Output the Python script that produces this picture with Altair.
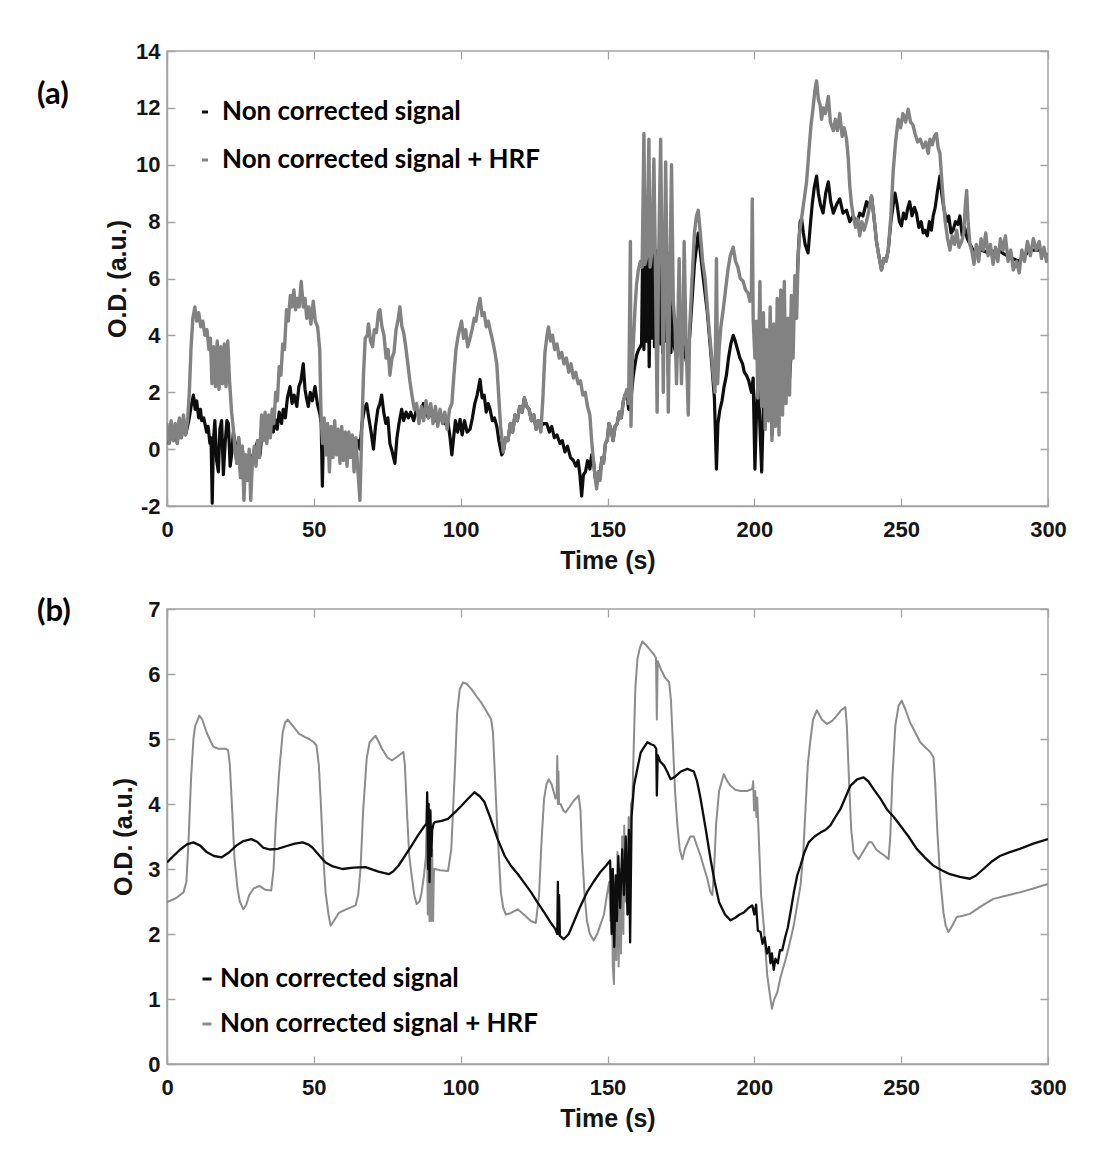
import altair as alt
import pandas as pd

# ---------------- data ----------------
SERIES = ["Non corrected signal", "Non corrected signal + HRF"]

# panel (a): (time s, O.D.)
top_black = [
(0,0.7),(0.7,0.2),(1.4,0.9),(2.1,0.3),(2.8,0.8),(3.5,0.2),(4.2,1.0),(4.9,0.4),(5.6,1.1),(6.3,0.5),(7.0,0.8),(7.6,1.1),(8.2,1.5),(9.0,1.9),(9.6,1.4),(10.1,1.7),(10.8,1.1),(11.4,1.4),(11.8,1.0),(12.5,1.1),(13.5,0.6),(14.0,0.8),(14.6,0.2),(15.0,0.4),(15.4,-1.9),(15.8,0.3),(16.3,1.0),(16.9,-0.4),(17.5,-0.8),(18.0,0.7),(18.6,1.0),(19.2,-0.9),(19.8,0.2),(20.4,1.0),(20.9,0.9),(21.5,-0.6),(22.0,-0.2),(22.6,0.6),(23.2,0.2),(23.8,-0.5),(24.4,0.4),(25.0,-0.8),(25.6,0.1),(26.5,-0.9),(27.4,-0.6),(28.3,-0.2),(29.1,-0.4),(30.0,0.0),(30.9,0.3),(31.7,-0.2),(32.5,0.8),(33.4,1.0),(34.3,0.4),(35.2,0.9),(36.2,0.6),(36.8,1.05),(37.5,0.7),(38.2,1.3),(39.0,0.9),(39.6,1.4),(40.3,1.1),(41.0,1.8),(41.9,2.2),(42.6,1.6),(43.3,1.9),(44.2,1.5),(44.9,2.2),(45.6,2.4),(46.4,3.0),(47.0,2.1),(47.5,1.8),(48.1,1.5),(48.8,2.0),(49.5,1.7),(50.4,2.2),(51.2,1.6),(52.1,1.2),(52.5,0.9),(52.9,-1.3),(53.3,0.6),(54.0,0.2),(55.0,0.5),(56.0,0.0),(57.0,0.6),(58.0,-0.1),(59.0,0.4),(60.0,0.0),(61.0,0.5),(62.0,-0.1),(63.0,0.4),(64.0,-0.2),(65.0,0.3),(65.7,0.0),(66.4,0.9),(67.2,1.4),(68.0,1.6),(68.7,1.1),(69.5,0.6),(70.3,0.0),(71.0,0.8),(71.8,1.4),(72.5,1.6),(73.1,1.9),(73.8,1.3),(74.5,0.9),(75.2,1.1),(75.9,0.2),(76.7,-0.1),(77.6,-0.5),(78.3,0.4),(79.0,0.9),(79.9,1.4),(80.6,1.0),(81.4,1.3),(82.2,1.1),(83.0,1.3),(84.0,1.0),(85.0,1.4),(86.0,1.2),(87.3,1.6),(88.2,1.3),(89.0,1.1),(90.0,1.3),(91.5,1.0),(93.0,1.2),(94.5,0.9),(95.6,1.0),(96.4,0.4),(97.0,-0.2),(97.5,0.3),(98.2,1.0),(99.0,0.6),(99.8,1.05),(100.5,0.5),(101.3,1.0),(102.2,0.6),(103.2,0.7),(104.0,1.1),(104.8,1.6),(105.6,1.9),(106.6,2.45),(107.3,1.8),(108.0,1.9),(108.7,1.3),(109.4,1.6),(110.0,1.4),(110.8,1.0),(111.5,1.1),(112.3,0.8),(113.0,0.3),(114.0,-0.2),(114.5,-0.1),(115.3,0.4),(116.1,0.3),(116.9,0.9),(117.7,0.6),(118.5,1.2),(119.3,1.0),(120.1,1.5),(120.9,1.3),(121.7,1.8),(122.5,1.5),(123.3,1.4),(124.1,1.0),(124.9,1.2),(125.7,0.7),(126.5,1.0),(127.3,0.8),(128.2,0.9),(129.3,0.9),(130.2,0.6),(131.0,0.8),(131.9,0.4),(132.8,0.5),(133.8,0.2),(134.6,0.3),(135.5,-0.1),(136.4,0.1),(137.4,-0.3),(138.4,-0.4),(139.2,-0.6),(140.0,-0.4),(140.6,-0.9),(141.2,-1.65),(141.8,-0.9),(142.5,-0.8),(143.2,-0.4),(144.0,-0.7),(144.6,-0.2),(145.2,-0.4),(145.8,-1.0),(146.3,-1.2),(146.9,-0.8),(147.5,-0.9),(148.1,-0.3),(148.7,-0.4),(149.3,0.2),(149.9,0.3),(150.5,0.9),(151.2,0.7),(151.9,0.3),(152.6,0.8),(153.3,0.9),(154.0,1.3),(154.7,1.1),(155.4,1.7),(156.0,1.9),(156.6,2.0),(157.2,1.4),(157.6,1.4),(158.2,2.0),(158.8,2.6),(159.4,3.0),(159.9,3.3),(160.6,3.5),(161.2,3.6),(161.6,3.7),(162.0,7.2),(162.4,3.5),(162.9,7.6),(163.3,3.8),(163.8,7.0),(164.2,2.9),(164.7,6.6),(165.1,3.9),(165.6,7.85),(166.0,3.6),(166.5,7.0),(166.9,2.6),(167.4,6.5),(167.9,3.7),(168.4,7.3),(168.8,3.4),(169.3,6.6),(169.8,3.8),(170.3,6.9),(170.7,2.6),(171.2,6.0),(171.6,3.4),(172.1,5.0),(172.6,3.7),(173.5,3.2),(174.5,4.2),(175.5,3.8),(177.0,3.0),(178.0,4.0),(179.6,6.5),(180.9,7.6),(182.4,6.2),(184.0,4.8),(185.5,3.0),(186.4,1.8),(187.1,-0.7),(187.6,0.9),(188.3,1.4),(189.0,1.7),(189.7,2.2),(190.5,2.6),(191.2,3.2),(192.0,3.7),(192.8,4.0),(193.5,3.8),(194.3,3.5),(195.1,3.2),(196.0,3.0),(196.6,2.7),(197.3,2.6),(198.1,2.4),(199.0,2.0),(199.6,2.5),(200.2,-0.7),(200.8,1.5),(201.3,2.6),(201.9,0.8),(202.5,-0.8),(203.1,1.6),(204.0,2.0),(204.8,1.0),(205.4,3.0),(206.0,0.5),(206.6,3.5),(207.2,1.0),(208.4,3.0),(209.6,1.5),(210.8,3.5),(212.0,2.5),(213.2,4.5),(214.4,5.5),(215.0,7.0),(215.6,8.0),(216.1,8.1),(216.7,7.6),(217.3,7.2),(218.3,6.9),(219.0,7.8),(219.7,8.6),(220.4,9.2),(221.2,9.6),(221.8,9.0),(222.5,8.6),(223.4,8.3),(224.3,9.0),(225.2,9.4),(226.0,8.7),(226.9,8.3),(228.0,8.6),(229.1,8.8),(230.2,8.3),(231.4,8.4),(232.5,8.0),(233.7,8.2),(234.8,7.9),(235.9,8.3),(237.0,8.2),(238.2,8.7),(239.0,8.5),(239.9,8.9),(240.7,8.2),(241.6,7.3),(242.4,6.8),(243.3,6.3),(244.1,6.7),(245.0,6.7),(245.6,7.0),(246.5,8.0),(247.3,8.6),(247.9,9.0),(248.6,8.6),(249.4,8.0),(250.1,7.85),(250.8,8.3),(251.6,8.1),(252.3,8.5),(252.9,8.7),(253.7,8.2),(254.5,8.5),(255.2,8.3),(256.0,7.8),(256.8,8.0),(257.5,7.6),(258.1,7.7),(258.9,7.5),(259.6,8.0),(260.3,7.7),(260.9,8.2),(261.6,8.5),(262.4,9.1),(263.2,9.6),(263.8,9.0),(264.5,8.5),(265.4,8.0),(266.2,8.2),(267.0,7.6),(267.7,7.7),(268.5,8.0),(269.3,7.9),(270.0,8.2),(270.8,7.5),(271.6,7.8),(272.5,7.4),(273.5,7.2),(275.0,6.9),(277.0,7.0),(280.0,6.9),(283.0,7.0),(286.0,6.8),(290.0,6.6),(294.0,7.0),(297.0,7.0),(300.0,6.8)]

top_hrf = [
(0,0.9),(0.7,0.2),(1.4,1.0),(2.1,0.3),(2.8,0.9),(3.5,0.2),(4.2,1.1),(4.9,0.4),(5.6,1.2),(6.3,0.5),(7.0,1.0),(7.6,2.0),(8.2,3.6),(8.8,4.6),(9.5,5.0),(10.1,4.5),(10.8,4.8),(11.5,4.3),(12.2,4.5),(12.9,4.0),(13.6,4.2),(14.3,3.5),(14.8,3.9),(15.3,2.3),(15.9,3.6),(16.5,2.2),(17.1,3.8),(17.7,2.1),(18.3,3.6),(18.9,2.3),(19.5,3.7),(20.1,2.2),(20.7,3.8),(21.3,2.4),(22.0,1.3),(22.6,0.7),(23.2,-0.1),(23.8,-0.5),(24.4,0.4),(25.0,-1.0),(25.6,0.1),(26.2,-1.8),(26.8,-0.2),(27.4,-1.1),(28.0,0.0),(28.5,-1.8),(29.1,-0.4),(29.7,0.1),(30.3,-0.6),(30.9,0.3),(31.5,-0.3),(32.2,1.2),(32.8,0.3),(33.4,1.3),(34.0,0.2),(34.6,1.2),(35.2,0.4),(35.8,1.4),(36.4,0.9),(37.0,2.0),(37.6,1.7),(38.2,2.9),(38.8,2.6),(39.4,3.7),(40.0,3.5),(40.7,4.9),(41.3,4.5),(42.0,5.4),(42.6,5.0),(43.2,5.6),(43.8,4.9),(44.4,5.3),(45.0,5.0),(45.7,5.9),(46.4,5.0),(47.0,5.3),(47.6,4.6),(48.3,5.0),(49.0,4.4),(49.8,5.2),(50.5,4.5),(51.3,4.3),(52.0,3.5),(52.5,1.0),(53.0,0.2),(53.5,1.1),(54.1,-0.2),(54.7,0.9),(55.3,-0.8),(55.9,0.8),(56.5,-0.3),(57.1,1.0),(57.7,-0.2),(58.3,0.7),(58.9,-0.5),(59.5,0.8),(60.1,-0.4),(60.7,0.6),(61.3,-0.6),(61.9,0.6),(62.5,-0.3),(63.1,0.5),(63.7,-0.8),(64.3,0.4),(64.9,-0.6),(65.7,-1.8),(66.3,0.5),(66.9,2.6),(67.5,3.9),(68.2,4.0),(68.6,4.4),(69.3,3.8),(70.0,3.6),(70.6,4.2),(71.3,4.1),(72.0,4.8),(72.5,4.9),(73.2,4.3),(73.9,4.0),(74.6,3.2),(75.3,3.5),(75.9,2.6),(76.6,3.2),(77.3,3.4),(78.0,4.2),(78.6,4.5),(79.3,5.0),(80.0,4.3),(80.6,4.1),(81.3,3.6),(82.0,3.0),(82.7,2.4),(83.4,1.9),(84.2,1.4),(85.0,1.6),(85.8,0.9),(86.6,1.5),(87.4,1.0),(88.2,1.7),(89.0,1.1),(89.8,1.6),(90.6,0.9),(91.4,1.5),(92.2,0.8),(93.0,1.4),(93.8,0.9),(94.6,1.3),(95.4,0.7),(96.2,1.4),(97.0,1.6),(97.7,2.6),(98.4,3.5),(99.0,3.9),(99.6,4.2),(100.3,4.5),(101.0,3.9),(101.7,4.2),(102.4,3.6),(103.2,3.9),(103.9,4.2),(104.6,4.6),(105.2,4.5),(105.9,5.0),(106.6,5.3),(107.3,4.7),(108.0,4.8),(108.7,4.3),(109.4,4.5),(110.0,4.2),(110.7,3.9),(111.5,3.5),(112.3,3.0),(113.0,1.8),(113.6,0.8),(114.5,-0.1),(115.3,0.4),(116.1,0.3),(116.9,0.9),(117.7,0.6),(118.5,1.2),(119.3,1.0),(120.1,1.5),(120.9,1.3),(121.7,1.8),(122.5,1.5),(123.3,1.4),(124.1,1.0),(124.9,1.2),(125.7,0.7),(126.5,1.0),(127.3,0.6),(128.0,1.8),(128.7,3.4),(129.4,4.0),(129.9,4.3),(130.6,3.8),(131.3,4.0),(132.0,3.5),(132.8,3.7),(133.6,3.2),(134.4,3.4),(135.2,3.0),(136.0,3.2),(136.8,2.7),(137.6,3.0),(138.4,2.5),(139.2,2.7),(140.0,2.3),(140.8,2.4),(141.6,1.9),(142.4,2.0),(143.2,1.5),(144.0,1.2),(144.6,0.3),(145.2,-0.4),(145.8,-1.0),(146.3,-1.4),(146.9,-0.8),(147.5,-1.1),(148.1,-0.3),(148.7,-0.5),(149.3,0.2),(149.9,0.3),(150.5,0.9),(151.2,0.7),(151.9,0.3),(152.6,0.8),(153.3,0.9),(154.0,1.3),(154.7,1.1),(155.4,1.7),(156.0,1.9),(156.6,2.1),(157.2,1.6),(157.8,7.3),(158.0,0.8),(158.4,3.0),(158.8,3.7),(159.4,5.0),(159.9,5.8),(160.5,6.3),(161.2,6.6),(161.8,6.4),(162.4,11.1),(162.8,6.5),(163.4,6.8),(164.1,10.9),(164.5,6.4),(165.1,6.9),(165.8,10.2),(166.3,6.5),(166.9,1.3),(167.4,6.6),(168.1,10.9),(168.6,6.2),(169.0,2.0),(169.4,6.3),(169.8,10.1),(170.3,6.0),(170.7,1.3),(171.2,5.6),(171.8,10.0),(172.4,5.2),(173.0,4.3),(173.5,2.3),(174.0,4.5),(174.4,6.7),(174.8,4.0),(175.2,2.3),(175.7,4.2),(176.1,7.3),(176.7,4.0),(177.5,1.2),(178.0,4.3),(178.8,6.0),(179.6,7.6),(180.3,8.2),(180.9,8.4),(181.6,7.6),(182.4,6.6),(183.2,6.0),(184.0,5.0),(184.8,4.0),(185.5,3.2),(186.0,2.6),(186.6,2.0),(187.1,6.7),(187.5,2.3),(188.0,3.5),(188.6,4.3),(189.4,4.9),(190.2,5.6),(191.0,6.3),(191.8,6.8),(192.8,7.1),(193.6,6.6),(194.4,6.4),(195.2,6.0),(196.2,5.9),(197.0,5.6),(197.8,5.5),(198.5,5.2),(199.0,5.4),(199.3,8.8),(199.6,4.6),(200.2,3.2),(200.7,4.5),(201.2,1.8),(201.9,5.9),(202.5,1.5),(203.1,4.8),(203.7,0.7),(204.2,4.2),(204.8,1.0),(205.4,5.0),(206.0,0.3),(206.6,4.4),(207.2,0.8),(207.8,5.3),(208.4,0.5),(209.0,5.6),(209.6,1.2),(210.2,5.9),(210.8,1.6),(211.4,4.6),(212.0,1.9),(212.6,5.4),(213.2,3.2),(213.8,6.1),(214.4,4.6),(214.9,6.7),(215.5,7.7),(216.2,8.2),(217.0,8.8),(217.8,9.4),(218.6,10.5),(219.3,11.4),(220.0,12.0),(220.6,12.6),(221.2,12.95),(221.8,12.3),(222.4,12.1),(222.9,11.6),(223.5,12.0),(224.2,11.8),(225.2,12.4),(225.9,11.5),(226.9,11.2),(227.6,11.6),(228.3,11.2),(229.1,11.8),(229.9,11.0),(230.6,11.3),(231.4,10.9),(232.0,10.2),(232.5,9.25),(233.1,8.6),(233.7,8.2),(234.5,7.8),(235.2,8.1),(235.9,7.5),(236.6,8.0),(237.4,7.7),(238.2,8.0),(239.0,8.4),(239.9,8.9),(240.7,8.2),(241.6,7.3),(242.4,6.8),(243.3,6.3),(244.1,6.7),(244.9,6.6),(245.6,7.0),(246.5,8.2),(247.3,9.8),(248.1,10.8),(249.0,11.6),(249.8,11.3),(250.6,11.8),(251.5,11.5),(252.4,11.95),(253.2,11.5),(254.0,11.4),(254.7,11.1),(255.6,10.8),(256.5,10.9),(257.5,10.6),(258.4,10.8),(259.2,10.4),(259.8,10.9),(260.6,10.7),(261.3,11.0),(262.0,11.1),(262.6,10.6),(263.2,10.4),(263.8,9.5),(264.3,8.8),(265.0,8.0),(265.8,7.4),(266.6,7.0),(267.4,7.5),(268.2,7.2),(268.9,7.7),(269.7,7.1),(270.6,7.3),(271.3,7.6),(271.8,8.5),(272.3,9.1),(272.8,8.0),(273.4,7.2),(274.0,7.0),(274.8,6.5),(275.6,7.2),(276.4,6.6),(277.2,7.4),(278.0,7.0),(278.8,7.6),(279.6,6.8),(280.4,7.2),(281.3,6.5),(282.1,7.1),(282.9,6.6),(283.8,7.4),(284.7,7.0),(285.5,7.5),(286.4,6.6),(287.3,7.0),(288.2,6.3),(289.3,6.6),(290.2,6.2),(291.1,7.0),(292.0,6.6),(293.0,7.3),(294.0,6.8),(295.0,7.4),(296.0,7.0),(297.0,7.3),(297.8,6.7),(298.6,7.1),(299.5,6.6),(300.0,6.9)]

# panel (b): (time s, O.D.)
bot_black = [
(0,3.1),(2.2,3.2),(4.5,3.3),(6.8,3.38),(9.0,3.41),(11.3,3.36),(13.5,3.26),(16.0,3.2),(18.6,3.18),(21.0,3.25),(23.6,3.36),(26.0,3.43),(28.7,3.46),(30.7,3.42),(32.7,3.33),(35.0,3.3),(37.7,3.31),(40.5,3.35),(43.5,3.39),(46.2,3.41),(48.0,3.38),(49.5,3.33),(52.0,3.2),(54.0,3.1),(56.5,3.04),(59.7,3.0),(63.5,3.02),(67.6,3.03),(70.0,2.99),(72.0,2.96),(75.5,2.92),(77.0,2.96),(78.8,3.05),(81.0,3.2),(83.3,3.36),(85.5,3.52),(87.5,3.65),(88.4,3.7),(88.6,4.18),(88.9,3.0),(89.1,4.0),(89.4,2.8),(89.7,3.9),(90.0,3.2),(90.3,3.6),(90.8,3.7),(91.2,3.72),(93.5,3.74),(95.7,3.77),(98.0,3.87),(100.2,3.97),(102.5,4.08),(104.7,4.18),(106.5,4.12),(108.1,4.03),(110.0,3.8),(112.6,3.46),(115.0,3.2),(117.1,3.05),(119.5,2.92),(121.6,2.79),(124.0,2.64),(126.1,2.49),(128.5,2.33),(130.6,2.18),(132.2,2.08),(132.9,2.0),(133.1,2.8),(133.3,2.0),(133.5,2.6),(133.8,1.97),(135.1,1.92),(136.8,2.0),(138.5,2.18),(140.5,2.4),(143.0,2.64),(145.2,2.8),(147.5,2.95),(149.5,3.05),(150.9,3.13),(151.4,2.0),(151.8,3.0),(152.3,1.8),(152.8,2.9),(153.2,2.2),(153.7,3.2),(154.3,2.4),(155.0,3.3),(155.6,2.6),(156.2,3.5),(156.8,2.3),(157.3,3.6),(157.7,1.87),(158.2,3.8),(159.0,4.28),(160.2,4.55),(161.3,4.79),(162.5,4.88),(163.6,4.95),(164.8,4.92),(165.9,4.9),(166.6,4.85),(166.8,4.13),(167.1,4.75),(168.0,4.65),(169.3,4.59),(170.5,4.48),(171.5,4.38),(173.0,4.42),(175.0,4.5),(177.2,4.54),(179.4,4.5),(180.5,4.35),(181.7,4.08),(183.5,3.6),(185.1,3.15),(186.5,2.8),(188.0,2.49),(190.0,2.3),(191.9,2.21),(193.5,2.25),(195.0,2.3),(196.4,2.33),(198.0,2.4),(199.3,2.44),(200.0,2.3),(200.6,2.45),(201.2,2.05),(202.1,2.03),(202.8,1.85),(203.5,1.95),(204.3,1.7),(205.0,1.8),(205.5,1.55),(206.0,1.7),(206.6,1.45),(207.2,1.62),(208.0,1.55),(208.7,1.75),(209.5,1.75),(210.5,1.95),(211.4,2.1),(212.3,2.33),(213.5,2.65),(214.6,2.9),(215.7,3.05),(217.0,3.25),(218.5,3.41),(220.5,3.5),(222.5,3.56),(224.2,3.6),(225.9,3.67),(227.6,3.8),(229.3,3.92),(231.0,4.1),(232.7,4.28),(235.0,4.38),(237.2,4.41),(238.8,4.35),(240.6,4.23),(243.0,4.08),(245.1,3.92),(247.5,3.8),(249.7,3.67),(252.5,3.5),(255.3,3.31),(258.0,3.18),(261.0,3.05),(263.8,2.98),(266.6,2.92),(270.0,2.88),(273.4,2.85),(275.5,2.9),(278.0,3.0),(281.0,3.12),(283.6,3.2),(287.0,3.26),(290.4,3.31),(295.0,3.39),(300.0,3.46)]

bot_hrf = [
(0,2.49),(3,2.55),(5.6,2.64),(6.6,2.8),(7.3,3.4),(8.2,4.4),(9.0,5.0),(9.6,5.2),(11.0,5.36),(12.0,5.3),(13.5,5.1),(15.0,4.95),(15.8,4.88),(17.5,4.85),(20.0,4.85),(20.8,4.83),(21.4,4.6),(22.2,3.9),(23.0,3.15),(24.0,2.7),(24.8,2.5),(26.0,2.38),(27.0,2.45),(28.0,2.6),(29.5,2.7),(31.5,2.74),(33.5,2.68),(35.5,2.67),(36.3,3.0),(37.0,3.67),(38.2,4.5),(39.4,5.1),(40.2,5.25),(41.1,5.3),(42.5,5.22),(45.0,5.08),(47.0,5.03),(48.4,5.0),(50.0,4.95),(50.9,4.9),(51.7,4.6),(52.4,4.0),(53.2,3.2),(54.0,2.64),(55.0,2.3),(55.7,2.13),(56.8,2.2),(58.6,2.33),(61.0,2.38),(64.2,2.44),(65.1,2.6),(65.9,3.0),(66.8,3.9),(68.0,4.7),(69.0,4.95),(71.0,5.05),(72.2,4.95),(73.2,4.85),(75.0,4.72),(76.6,4.67),(78.5,4.73),(80.5,4.8),(81.0,4.6),(81.8,3.8),(82.5,3.2),(83.3,2.9),(84.2,2.6),(85.0,2.46),(86.0,2.5),(86.7,2.64),(87.5,2.9),(88.2,3.2),(88.5,3.9),(88.8,2.3),(89.1,3.8),(89.4,2.2),(89.7,3.4),(90.0,2.2),(90.3,3.3),(90.6,2.2),(90.9,3.0),(91.2,3.0),(93.0,2.98),(95.7,2.97),(96.8,3.3),(98.0,4.5),(98.8,5.4),(99.7,5.77),(100.8,5.87),(102.0,5.85),(103.6,5.77),(105.5,5.65),(107.0,5.56),(108.5,5.45),(110.4,5.3),(111.0,5.1),(111.5,4.6),(112.5,3.6),(113.7,2.64),(114.5,2.4),(115.4,2.3),(117.0,2.32),(119.4,2.38),(121.5,2.3),(123.9,2.2),(125.6,2.17),(126.7,2.6),(127.5,3.4),(128.4,4.08),(129.2,4.3),(130.0,4.38),(131.0,4.3),(132.3,4.08),(132.7,4.15),(132.9,4.74),(133.1,4.0),(133.3,4.5),(133.5,4.0),(134.0,4.0),(135.0,3.9),(135.7,3.87),(137.0,3.95),(138.5,4.05),(140.2,4.13),(140.8,3.9),(141.3,3.3),(142.2,2.6),(143.0,2.2),(144.0,2.0),(145.3,1.9),(146.5,2.0),(147.5,2.13),(148.8,2.3),(149.8,2.6),(150.6,2.8),(151.0,2.2),(151.4,3.0),(151.8,1.5),(152.2,1.23),(152.6,2.8),(153.0,1.6),(153.4,3.26),(153.8,1.5),(154.2,3.0),(154.6,1.7),(155.0,3.5),(155.4,2.0),(155.7,3.67),(156.1,2.5),(156.5,3.3),(156.8,2.8),(157.2,3.8),(157.6,2.9),(158.0,4.0),(158.5,4.08),(159.0,5.0),(159.5,5.8),(160.2,6.23),(161.0,6.4),(161.9,6.5),(163.0,6.45),(164.0,6.4),(164.7,6.36),(165.8,6.3),(166.5,6.25),(166.8,5.3),(167.1,6.2),(168.1,6.08),(169.5,5.95),(171.0,5.87),(171.6,5.6),(172.2,5.0),(173.0,4.2),(173.8,3.67),(174.6,3.3),(175.5,3.15),(176.3,3.3),(177.2,3.4),(178.2,3.5),(179.4,3.5),(180.5,3.35),(181.7,3.2),(183.0,3.0),(184.0,2.85),(185.0,2.65),(185.7,2.6),(186.3,3.0),(187.0,3.7),(188.0,4.2),(189.6,4.46),(190.8,4.35),(191.9,4.28),(193.5,4.22),(195.3,4.2),(197.5,4.2),(199.3,4.23),(199.6,4.35),(199.9,3.9),(200.3,4.2),(200.7,3.8),(201.0,4.1),(201.5,3.5),(202.3,2.6),(203.2,2.13),(204.4,1.36),(205.2,1.1),(206.0,0.85),(206.8,1.0),(207.8,1.1),(209.0,1.35),(210.6,1.6),(212.0,1.85),(213.4,2.13),(214.6,2.45),(215.7,2.74),(216.6,3.2),(217.4,3.9),(218.2,4.6),(219.0,4.95),(220.0,5.3),(221.3,5.44),(223.0,5.3),(224.7,5.23),(226.5,5.28),(228.1,5.36),(229.5,5.44),(231.0,5.49),(231.5,5.2),(232.3,4.3),(233.0,3.6),(233.8,3.26),(235.5,3.15),(237.5,3.3),(239.0,3.41),(240.0,3.41),(241.5,3.3),(242.9,3.25),(244.5,3.2),(245.7,3.15),(246.3,3.5),(247.0,4.4),(248.0,5.2),(249.1,5.51),(250.2,5.59),(251.5,5.45),(253.0,5.26),(254.8,5.1),(256.5,4.95),(258.0,4.88),(259.9,4.8),(261.0,4.72),(261.6,4.3),(262.3,3.6),(263.2,2.9),(264.4,2.33),(265.2,2.12),(266.1,2.03),(267.3,2.12),(268.9,2.26),(271.0,2.28),(273.4,2.31),(277.0,2.42),(281.4,2.54),(285.0,2.58),(290.4,2.64),(295.0,2.7),(300.0,2.77)]

x_ticks = [0, 50, 100, 150, 200, 250, 300]
y_ticks_a = [-2, 0, 2, 4, 6, 8, 10, 12, 14]
y_ticks_b = [0, 1, 2, 3, 4, 5, 6, 7]

# ---------------- helpers ----------------
def frame(points, name):
    return pd.DataFrame({"t": [p[0] for p in points],
                         "v": [p[1] for p in points],
                         "series": name,
                         "i": list(range(len(points)))})

W = 881
H = 455
BOX = "#a3a3a3"
AXF = "Liberation Sans"
LGF = "Lato"

def xaxis():
    return alt.Axis(values=x_ticks, title="Time (s)", format="d",
                    labelFont=AXF, labelFontSize=22, labelFontWeight="bold",
                    labelColor="#151515", labelPadding=13, labelFlush=False,
                    labelOverlap=False, titleFont=AXF, titleFontSize=25,
                    titleFontWeight="bold", titleColor="#151515", titlePadding=8,
                    ticks=False, grid=True, gridColor=BOX, gridWidth=1.3,
                    gridDash=[8, H - 16, 8], domainColor=BOX, domainWidth=1.5)

def yaxis(vals, tpad):
    return alt.Axis(values=vals, title="O.D. (a.u.)", format="d",
                    labelExpr="replace(datum.label, '\u2212', '-')",
                    labelFont=AXF, labelFontSize=22, labelFontWeight="bold",
                    labelColor="#151515", labelPadding=7, labelFlush=False,
                    labelOverlap=False, titleFont=AXF, titleFontSize=25,
                    titleFontWeight="bold", titleColor="#151515", titlePadding=tpad,
                    ticks=False, grid=True, gridColor=BOX, gridWidth=1.3,
                    gridDash=[8, W - 16, 8], domainColor=BOX, domainWidth=1.5)

def legend(lx, ly, rowpad, ssize, loff):
    return alt.Legend(orient="none", legendX=lx, legendY=ly, title=None,
                      symbolType="stroke", symbolSize=ssize, symbolStrokeWidth=3,
                      labelFont=LGF, labelFontSize=26, labelFontWeight="bold",
                      labelColor="black", labelOffset=loff, rowPadding=rowpad,
                      padding=0, labelLimit=0)

def panel(black_pts, hrf_pts, ydom, yvals, leg, label, ldy, tpad, hrf_color,
          black_on_top, sw_black, sw_hrf):
    cscale = alt.Scale(domain=SERIES, range=["#0d0d0d", hrf_color])
    enc = dict(
        x=alt.X("t:Q", scale=alt.Scale(domain=[0, 300], nice=False), axis=xaxis()),
        y=alt.Y("v:Q", scale=alt.Scale(domain=ydom, nice=False), axis=yaxis(yvals, tpad)),
        color=alt.Color("series:N", scale=cscale, legend=leg),
        order=alt.Order("i:Q"),
    )
    lb = alt.Chart(frame(black_pts, SERIES[0])).mark_line(
        strokeWidth=sw_black, strokeJoin="round", clip=True).encode(**enc)
    lh = alt.Chart(frame(hrf_pts, SERIES[1])).mark_line(
        strokeWidth=sw_hrf, strokeJoin="round", clip=True).encode(**enc)
    layers = [lh, lb] if black_on_top else [lb, lh]
    return alt.layer(*layers).properties(
        width=W, height=H,
        title=alt.TitleParams(text=label, anchor="start", frame="group", orient="top",
                              align="left", dx=-130, dy=ldy, offset=0,
                              font=LGF, fontSize=31, fontWeight="bold", color="black"))

top = panel(top_black, top_hrf, [-2, 14], y_ticks_a,
            legend(25, 48, 22, 36, 4), "(a)", 71, 5, "#828282", False, 3.2, 3.4)
bot = panel(bot_black, bot_hrf, [0, 7], y_ticks_b,
            legend(27, 357, 19, 81, 0), "(b)", 30, 11, "#8c8c8c", True, 2.3, 2.0)

chart = alt.vconcat(top, bot, spacing=21).resolve_scale(color="independent").properties(
    padding={"left": 28, "top": 31, "right": 10, "bottom": 10}
).configure_view(stroke=BOX, strokeWidth=1.5)

chart.save("out.html", embed_options={"renderer": "svg", "actions": False})
